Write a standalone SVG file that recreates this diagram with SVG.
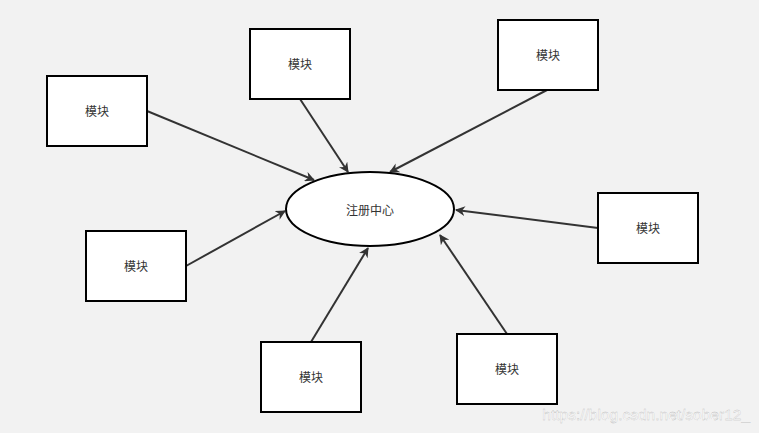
<svg xmlns="http://www.w3.org/2000/svg" width="759" height="433" viewBox="0 0 759 433">
<defs>
<marker id="ah" viewBox="0 0 10 10" refX="9" refY="5" markerWidth="10" markerHeight="10" markerUnits="userSpaceOnUse" orient="auto"><path d="M0,0 L10,5 L0,10 L3,5 z" fill="#333"/></marker>
<style>
.box{fill:#fff;stroke:#000;stroke-width:2}
.t{font-family:"Noto Sans CJK SC","Liberation Sans",sans-serif;font-size:12px;fill:#333;text-anchor:middle;dominant-baseline:central}
.c{stroke:#333;stroke-width:2;fill:none;marker-end:url(#ah)}
</style>
</defs>
<rect width="759" height="433" fill="#f2f2f2"/>
<g id="connectors">
<line class="c" x1="147" y1="111" x2="314" y2="180"/>
<line class="c" x1="300" y1="99" x2="348" y2="172"/>
<line class="c" x1="547" y1="90" x2="390" y2="172"/>
<line class="c" x1="598" y1="228" x2="456" y2="210"/>
<line class="c" x1="186" y1="266" x2="285" y2="211"/>
<line class="c" x1="311" y1="342" x2="368" y2="248"/>
<line class="c" x1="507" y1="334" x2="440" y2="235"/>
</g>
<g id="center"><ellipse cx="370" cy="209" rx="84" ry="37" fill="#fff" stroke="#000" stroke-width="2"/><text class="t" x="370" y="209">注册中心</text></g>
<g id="m1"><rect class="box" x="47" y="76" width="100" height="70"/><text class="t" x="97" y="110">模块</text></g>
<g id="m2"><rect class="box" x="250" y="29" width="100" height="70"/><text class="t" x="300" y="63">模块</text></g>
<g id="m3"><rect class="box" x="498" y="20" width="100" height="70"/><text class="t" x="548" y="54">模块</text></g>
<g id="m4"><rect class="box" x="598" y="193" width="100" height="70"/><text class="t" x="648" y="227">模块</text></g>
<g id="m5"><rect class="box" x="86" y="231" width="100" height="70"/><text class="t" x="136" y="265">模块</text></g>
<g id="m6"><rect class="box" x="261" y="342" width="100" height="70"/><text class="t" x="311" y="376">模块</text></g>
<g id="m7"><rect class="box" x="457" y="334" width="100" height="70"/><text class="t" x="507" y="368">模块</text></g>
<text x="750" y="420" text-anchor="end" font-family="Liberation Sans,sans-serif" font-size="15.5" fill="#fff" stroke="#bbb" stroke-width="0.3">https://blog.csdn.net/sober12_</text>
</svg>
